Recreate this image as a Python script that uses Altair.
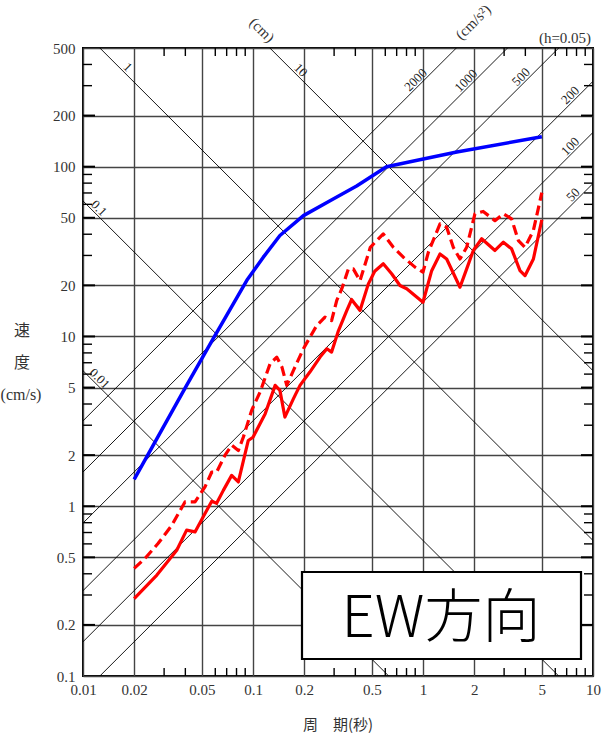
import math

import altair as alt
import pandas as pd

# ---- axes -------------------------------------------------------------
x_domain = [0.01, 10]      # period (s)
y_domain = [0.1, 500]      # pseudo-velocity (cm/s)
x_labels = [0.01, 0.02, 0.05, 0.1, 0.2, 0.5, 1, 2, 5, 10]
y_labels = [0.1, 0.2, 0.5, 1, 2, 5, 10, 20, 50, 100, 200, 500]
x_minor = [0.03, 0.04, 0.06, 0.07, 0.08, 0.09,
           0.3, 0.4, 0.6, 0.7, 0.8, 0.9,
           3, 4, 6, 7, 8, 9]
y_minor = [0.3, 0.4, 0.6, 0.7, 0.8, 0.9,
           3, 4, 6, 7, 8, 9,
           30, 40, 60, 70, 80, 90,
           300, 400]
y_major = [0.2, 0.5, 1, 2, 5, 10, 20, 50, 100, 200]

# ---- tripartite guide lines -------------------------------------------
disp_values = [0.01, 0.1, 1, 10]                 # displacement (cm)
disp_label_T = [0.0118, 0.0117, 0.0173, 0.18]    # where each label sits
acc_values = [50, 100, 200, 500, 1000, 2000]     # acceleration (cm/s^2)
acc_label_T = [8.1, 7.8, 7.8, 4.0, 1.9, 0.96]

# ---- spectra (h = 0.05) -----------------------------------------------
blue_T = [0.02, 0.04, 0.058, 0.092, 0.115, 0.144, 0.198, 0.284, 0.407,
          0.61, 0.84, 1.58, 5.0]
blue_SV = [1.44, 5.0, 9.6, 21.4, 29.3, 39.3, 51.5, 63.0, 77.0,
           100.0, 107.0, 122.0, 150.0]

solid_T = [0.02, 0.0272, 0.0356, 0.0407, 0.0456, 0.0522, 0.0572, 0.0611,
           0.0669, 0.0749, 0.082, 0.0938, 0.1, 0.118, 0.135, 0.144, 0.154,
           0.173, 0.189, 0.216, 0.248, 0.272, 0.29, 0.318, 0.356, 0.38,
           0.426, 0.477, 0.52, 0.584, 0.654, 0.732, 0.802, 1.0, 1.125,
           1.259, 1.378, 1.65, 1.807, 1.977, 2.214, 2.65, 2.97, 3.32,
           3.72, 3.98, 4.46, 5.0]
solid_SV = [0.286, 0.393, 0.551, 0.723, 0.706, 0.906, 1.07, 1.04,
            1.24, 1.52, 1.39, 2.44, 2.55, 3.51, 5.15, 4.81, 3.35,
            4.3, 5.15, 6.17, 7.56, 8.47, 8.09, 10.8, 14.2, 16.5,
            14.2, 20.4, 24.2, 26.8, 23.4, 19.95, 19.1, 15.9, 24.4,
            30.6, 28.6, 19.5, 25.0, 32.1, 37.6, 32.1, 35.9, 32.8,
            24.4, 22.8, 28.6, 48.7]

dash_T = [0.02, 0.0232, 0.0277, 0.0333, 0.0398, 0.0456, 0.0522, 0.0572,
          0.0611, 0.0685, 0.0749, 0.082, 0.0877, 0.0982, 0.11, 0.126,
          0.138, 0.148, 0.158, 0.173, 0.198, 0.237, 0.265, 0.29, 0.311,
          0.333, 0.364, 0.389, 0.426, 0.49, 0.584, 0.669, 0.766, 0.897,
          1.0, 1.075, 1.259, 1.378, 1.507, 1.65, 1.807, 2.02, 2.26, 2.65,
          2.97, 3.32, 3.64, 3.98, 4.46, 5.0]
dash_SV = [0.43, 0.494, 0.605, 0.773, 1.06, 1.06, 1.3, 1.59,
           1.59, 2.0, 2.29, 2.13, 2.55, 3.67, 4.7, 6.9,
           7.55, 6.6, 5.15, 6.31, 8.47, 11.6, 13.0, 12.4, 16.3,
           19.1, 25.0, 25.0, 21.3, 33.5, 40.2, 33.5, 29.3, 25.6,
           23.9, 31.3, 46.0, 44.0, 33.5, 28.6, 33.5, 52.7, 54.5, 48.1,
           52.7, 49.2, 36.7, 33.5, 42.1, 70.3]

W, H = 510, 628
SERIF = "Liberation Serif"
CJK = "Noto Sans CJK JP"
TXT = "#333333"

xs = alt.Scale(type="log", domain=x_domain, nice=False)
ys = alt.Scale(type="log", domain=y_domain, nice=False)

x_axis = alt.Axis(values=x_labels, format="~g", grid=True, gridColor="#444444",
                  gridWidth=1.4, domain=False, ticks=False, tickSize=0,
                  labelPadding=6, labelFont=SERIF, labelFontSize=15,
                  labelColor=TXT, labelFlush=False, labelOverlap=False,
                  title=None)
y_axis = alt.Axis(values=y_labels, format="~g", grid=True, gridColor="#444444",
                  gridWidth=1.4, domain=False, ticks=False, tickSize=0,
                  labelPadding=8, labelFont=SERIF, labelFontSize=15,
                  labelColor=TXT, labelFlush=False, labelOverlap=False,
                  title=None)


def X(field="T"):
    return alt.X(f"{field}:Q", scale=xs, axis=x_axis)


def Y(field="SV"):
    return alt.Y(f"{field}:Q", scale=ys, axis=y_axis)


# guide-line end points, clipped to the plot
two_pi = 2 * math.pi
guide_rows = []
for d in disp_values:
    for t in (0.001, 100.0):
        guide_rows.append({"id": f"d{d}", "T": t, "SV": two_pi * d / t})
for a in acc_values:
    for t in (0.001, 100.0):
        guide_rows.append({"id": f"a{a}", "T": t, "SV": a * t / two_pi})
guide_df = pd.DataFrame(guide_rows)

guides = alt.Chart(guide_df).mark_line(
    clip=True, color="black", strokeWidth=0.9
).encode(x=X(), y=Y(), detail="id:N")

# labels of guide lines
disp_lab = pd.DataFrame({
    "T": disp_label_T,
    "SV": [two_pi * d / t for d, t in zip(disp_values, disp_label_T)],
    "label": [f"{d:g}" for d in disp_values],
})
acc_lab = pd.DataFrame({
    "T": acc_label_T,
    "SV": [a * t / two_pi for a, t in zip(acc_values, acc_label_T)],
    "label": [f"{a:g}" for a in acc_values],
})
disp_text = alt.Chart(disp_lab).mark_text(
    angle=45, baseline="middle", dy=-6, font=SERIF, fontSize=13, color="#222222"
).encode(x=X(), y=Y(), text="label:N")
acc_text = alt.Chart(acc_lab).mark_text(
    angle=315, baseline="middle", dy=-6, font=SERIF, fontSize=13, color="#222222"
).encode(x=X(), y=Y(), text="label:N")

# inner ticks on all four sides
xminor_df = pd.DataFrame({"T": x_minor})
yminor_df = pd.DataFrame({"SV": y_minor})
ymajor_df = pd.DataFrame({"SV": y_major})


def xticks(y0, y1):
    return alt.Chart(xminor_df).mark_rule(color="black", strokeWidth=1.4).encode(
        x=X(), y=alt.value(y0), y2=alt.value(y1))


def yticks(df, x0, x1, w):
    return alt.Chart(df).mark_rule(color="black", strokeWidth=w).encode(
        y=Y(), x=alt.value(x0), x2=alt.value(x1))


ticks = [
    xticks(0, 8), xticks(H, H - 8),
    yticks(yminor_df, 0, 9, 1.4), yticks(yminor_df, W, W - 9, 1.4),
    yticks(ymajor_df, 0, 12, 2), yticks(ymajor_df, W, W - 12, 2),
]

# spectra
blue_df = pd.DataFrame({"T": blue_T, "SV": blue_SV})
solid_df = pd.DataFrame({"T": solid_T, "SV": solid_SV})
dash_df = pd.DataFrame({"T": dash_T, "SV": dash_SV})


def curve(df, color, width, dash=None):
    kw = dict(color=color, strokeWidth=width, strokeJoin="round")
    if dash:
        kw["strokeDash"] = dash
    return alt.Chart(df).mark_line(**kw).encode(
        x=X(), y=Y(), order=alt.Order("T:Q"))


blue = curve(blue_df, "#0000ff", 3.5)
red_solid = curve(solid_df, "#ff0000", 3.2)
red_dash = curve(dash_df, "#ff0000", 3.2, [10, 5])

# fixed annotations
one = pd.DataFrame({"k": [0]})


def label(text, x, y, size=14, font=SERIF, angle=0, color=TXT, weight="normal"):
    kw = dict(x=x, y=y, text=text, font=font, fontSize=size, color=color,
              align="center", baseline="middle", fontWeight=weight)
    if angle:
        kw["angle"] = angle
    return alt.Chart(one).mark_text(**kw).encode(opacity=alt.value(1))


box = alt.Chart(one).mark_rect(
    x=219, x2=498, y=524, y2=611, fill="white", stroke="black", strokeWidth=2.2
).encode(opacity=alt.value(1))

texts = [
    label("速", -61, 283, size=16, font=CJK),
    label("度", -61, 315, size=16, font=CJK),
    label("(cm/s)", -62, 347, size=16),
    label("周\u3000期(秒)", 255, 677, size=15, font=CJK),
    label("(cm)", 179, -18, size=15, angle=45),
    label("(cm/s²)", 390, -26, size=15, angle=315),
    label("(h=0.05)", 482, -10, size=15),
    label("EW方向", 358, 572, size=58, font=CJK, color="black", weight=300),
]

chart = alt.layer(
    guides, disp_text, acc_text, *ticks, blue, red_dash, red_solid, box, *texts
).properties(
    width=W, height=H,
    autosize=alt.AutoSizeParams(type="none"),
    padding={"left": 83, "top": 48, "right": 13, "bottom": 67},
).configure_view(
    stroke="black", strokeWidth=2
)

chart.save("out.html", embed_options={"renderer": "svg", "actions": False})
